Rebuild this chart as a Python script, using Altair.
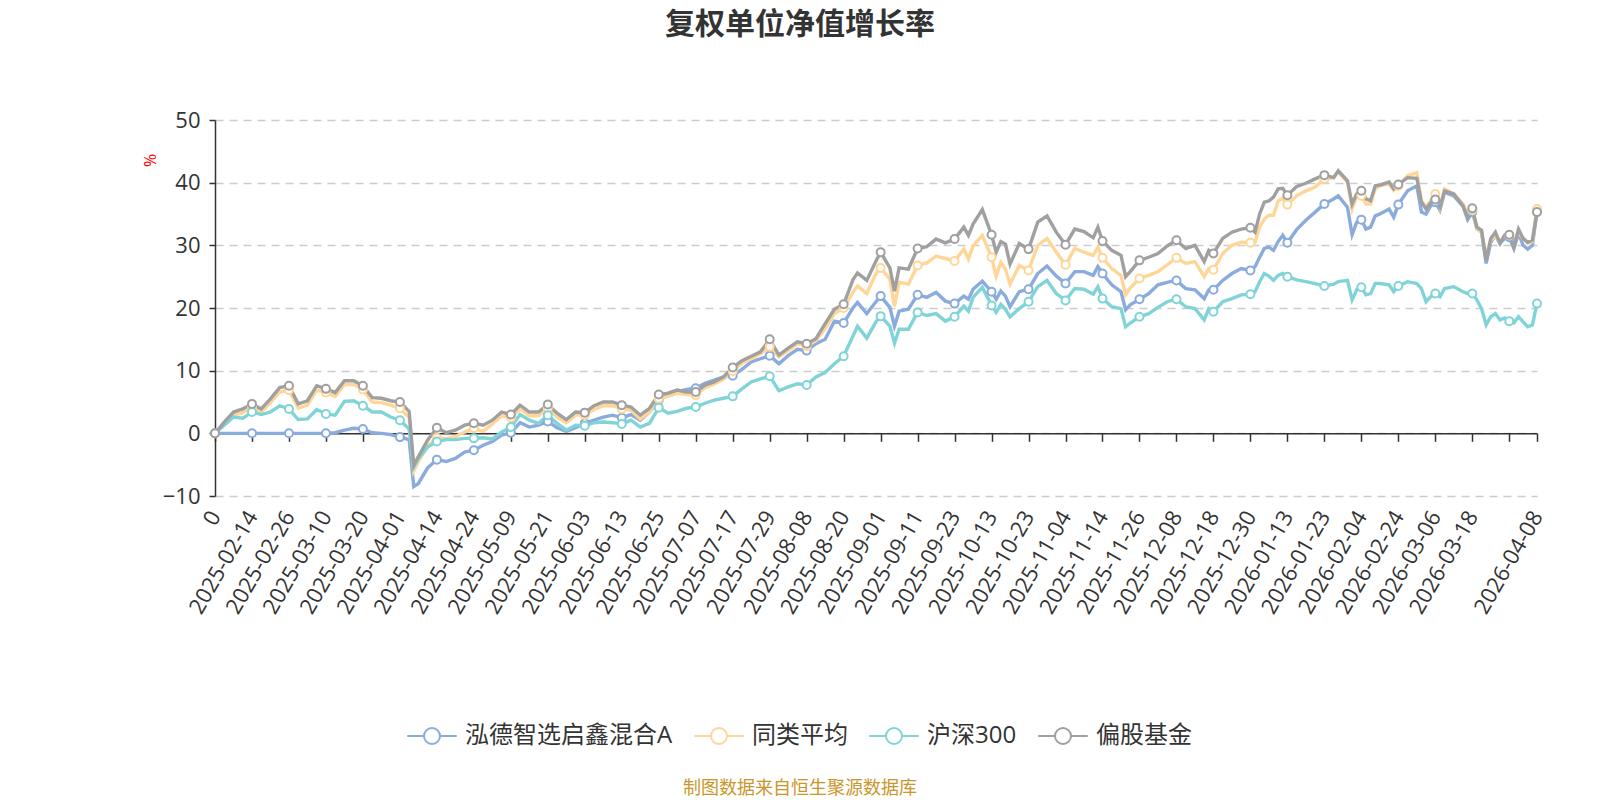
import altair as alt
import pandas as pd

TITLE = "复权单位净值增长率"
SOURCE = "制图数据来自恒生聚源数据库"
SERIES = ["泓德智选启鑫混合A", "同类平均", "沪深300", "偏股基金"]
COLORS = ["#8aabdd", "#ffd697", "#80d4d8", "#a0a0a0"]

TICK_POS = [0, 8, 16, 24, 32, 40, 48, 56, 64, 72, 80, 88, 96, 104, 112, 120, 128, 136,
            144, 152, 160, 168, 176, 184, 192, 200, 208, 216, 224, 232, 240, 248, 256,
            264, 272, 280, 286]
TICK_LABELS = ["0", "2025-02-14", "2025-02-26", "2025-03-10", "2025-03-20", "2025-04-01",
               "2025-04-14", "2025-04-24", "2025-05-09", "2025-05-21", "2025-06-03",
               "2025-06-13", "2025-06-25", "2025-07-07", "2025-07-17", "2025-07-29",
               "2025-08-08", "2025-08-20", "2025-09-01", "2025-09-11", "2025-09-23",
               "2025-10-13", "2025-10-23", "2025-11-04", "2025-11-14", "2025-11-26",
               "2025-12-08", "2025-12-18", "2025-12-30", "2026-01-13", "2026-01-23",
               "2026-02-04", "2026-02-24", "2026-03-06", "2026-03-18", "", "2026-04-08"]

# category index of each sampled trading day
IDX = [0, 2, 4, 6, 8, 10, 12, 14, 16, 18, 20, 22, 24, 26, 28, 30, 32, 34, 36, 38, 40, 42, 43,
       44, 46, 48, 50, 52, 54, 56, 58, 60, 62, 64, 66, 68, 70, 72, 74, 76, 78, 80, 82, 84,
       86, 88, 90, 92, 94, 96, 98, 100, 102, 104, 106, 108, 110, 112, 114, 116, 118, 120,
       122, 124, 126, 128, 130, 132, 134, 136, 138, 139, 141, 143, 144, 146, 147, 148, 150,
       152, 154, 156, 158, 160, 162, 163, 164, 166, 168, 169, 170, 171, 172, 174, 176, 178,
       180, 182, 184, 186, 188, 190, 191, 192, 194, 196, 197, 198, 200, 202, 204, 206, 208,
       210, 212, 214, 215, 216, 218, 220, 222, 224, 225, 226, 227, 228, 229, 230, 231, 232,
       234, 236, 238, 240, 242, 243, 245, 246, 247, 248, 249, 250, 251, 252, 254, 255, 256,
       258, 260, 261, 262, 263, 264, 265, 266, 268, 270, 271, 272, 273, 274, 275, 276, 277,
       278, 279, 280, 281, 282, 283, 284, 285, 286]

FUND = [0, 0, 0, 0, 0, 0, 0, 0, 0, 0, 0, 0, 0, 0.1, 0.5, 0.8, 0.7, 0.1, 0.0, -0.2, -0.6, -1.0, -8.5,
        -8.0, -5.5, -4.2, -4.5, -4.0, -3.0, -2.7, -1.9, -1.3, -0.3, 0.1, 1.7, 1.0, 1.3, 1.9, 0.9, 0.3,
        0.9, 1.6, 2.1, 2.6, 2.9, 2.5, 3.0, 2.1, 3.4, 5.3, 6.1, 6.6, 7.0, 7.2, 8.0, 8.5, 9.0, 9.2,
        10.2, 11.4, 11.9, 12.4, 11.1, 12.4, 13.4, 13.2, 14.3, 15.0, 17.9, 17.6, 20.0, 20.9, 19.1,
        21.0, 21.9, 20.1, 17.1, 19.5, 19.8, 22.1, 21.7, 22.5, 21.1, 20.7, 21.9, 21.4, 23.0, 24.3,
        22.6, 21.4, 22.7, 21.9, 20.2, 22.6, 23.0, 25.5, 26.7, 25.1, 23.9, 25.8, 25.8, 25.2, 26.6,
        25.5, 23.7, 22.6, 19.7, 20.5, 21.4, 22.3, 23.7, 24.1, 24.4, 23.1, 22.9, 21.5, 22.9, 22.9,
        24.4, 25.5, 26.3, 26.0, 26.6, 28.1, 29.5, 29.7, 29.2, 30.6, 31.6, 30.4, 32.5, 34.0, 35.3,
        36.6, 37.4, 37.9, 36.1, 31.7, 33.7, 34.1, 32.6, 32.9, 34.7, 35.0, 35.8, 34.5, 36.5, 38.7,
        39.5, 35.3, 35.0, 36.3, 36.9, 35.6, 38.5, 37.9, 36.2, 34.1, 35.3, 32.6, 32.1, 27.1, 30.5,
        31.6, 30.3, 31.1, 31.3, 29.5, 31.9, 30.0, 29.4, 30.0, 35.4]

PEER = [0, 1.5, 2.9, 3.3, 4.2, 3.4, 4.9, 6.6, 6.9, 4.0, 4.5, 6.9, 6.5, 5.9, 7.8, 7.8, 7.0, 5.0, 4.9,
        4.5, 4.0, 2.5, -6.0, -4.5, -2.0, -0.7, -0.9, -0.5, 0.2, 0.8, 0.3, 1.5, 2.8, 2.5, 3.9, 2.8,
        2.8, 4.0, 2.6, 1.7, 2.9, 2.9, 3.8, 4.4, 4.4, 3.9, 3.7, 2.3, 3.4, 5.5, 5.9, 6.4, 6.2, 6.1,
        7.3, 7.9, 8.6, 9.9, 11.2, 11.9, 12.7, 13.8, 12.2, 13.2, 14.3, 13.9, 14.8, 16.7, 19.1, 20.0,
        22.5, 23.5, 22.3, 25.5, 26.4, 24.6, 20.3, 24.1, 23.8, 26.8, 27.2, 28.3, 27.9, 27.5, 29.4,
        27.8, 29.9, 31.6, 28.1, 25.1, 27.3, 26.2, 23.8, 26.8, 26.0, 30.0, 31.1, 28.9, 26.9, 29.5,
        28.9, 28.4, 29.7, 28.0, 26.3, 25.2, 22.1, 23.2, 24.7, 25.2, 25.8, 26.9, 28.0, 27.1, 27.4,
        25.0, 26.3, 26.1, 28.7, 30.0, 30.5, 30.4, 30.5, 32.9, 34.2, 34.8, 34.8, 37.1, 37.5, 36.5,
        37.9, 38.7, 39.3, 40.6, 40.8, 41.7, 40.1, 35.8, 37.9, 37.9, 36.6, 36.6, 39.0, 39.5, 39.8,
        38.8, 39.5, 41.1, 41.6, 37.1, 36.1, 37.1, 38.2, 36.1, 39.0, 38.2, 36.6, 34.8, 35.6, 32.6,
        32.1, 28.4, 30.8, 31.6, 30.5, 31.6, 31.6, 30.3, 32.1, 31.1, 30.3, 30.6, 35.8]

HS300 = [0, 1.3, 2.6, 2.4, 3.4, 3.0, 3.4, 4.4, 3.9, 2.2, 2.3, 3.8, 3.1, 2.9, 5.1, 5.2, 4.4, 3.4,
         3.4, 2.6, 2.1, 0.7, -5.4, -4.0, -2.2, -1.3, -1.0, -1.0, -0.8, -0.8, -0.7, -0.9, 0.2, 1.0,
         3.0, 2.1, 1.6, 2.9, 1.6, 0.5, 1.3, 1.2, 1.7, 1.8, 1.7, 1.5, 2.1, 1.0, 1.6, 4.1, 3.2, 3.5,
         4.0, 4.2, 4.8, 5.3, 5.6, 5.9, 7.1, 8.2, 8.7, 9.1, 6.8, 7.4, 7.9, 7.7, 9.0, 9.7, 11.1, 12.3,
         15.5, 17.1, 15.2, 17.8, 18.7, 17.1, 14.4, 16.6, 16.6, 19.3, 18.8, 19.1, 17.9, 18.6, 20.3,
         19.5, 21.7, 23.3, 20.4, 19.3, 20.6, 19.8, 18.6, 19.9, 21.0, 23.4, 24.4, 22.3, 21.2, 23.1,
         23.0, 22.2, 23.4, 21.5, 20.2, 19.9, 17.0, 17.6, 18.6, 19.1, 20.1, 21.0, 21.4, 20.2, 19.9,
         18.1, 19.9, 19.4, 21.0, 21.5, 22.1, 22.2, 22.6, 24.2, 25.5, 25.1, 24.4, 25.2, 25.5, 25.0,
         24.5, 24.2, 23.9, 23.5, 23.8, 24.2, 24.4, 21.3, 22.9, 23.3, 22.1, 22.3, 23.9, 23.9, 23.7,
         22.6, 23.5, 24.2, 23.9, 23.1, 21.0, 21.8, 22.3, 21.8, 23.1, 23.4, 22.6, 22.3, 22.3, 21.3,
         19.9, 17.3, 18.6, 19.1, 18.1, 18.4, 17.9, 17.6, 18.6, 17.8, 17.0, 17.3, 20.7]

EQUITY = [0, 1.8, 3.4, 3.9, 4.7, 3.9, 5.5, 7.3, 7.6, 4.7, 5.2, 7.6, 7.1, 6.5, 8.4, 8.4, 7.6, 5.7,
          5.6, 5.2, 5.0, 3.5, -5.1, -3.7, -1.1, 0.9, 0.1, 0.5, 1.3, 1.6, 1.3, 2.1, 3.4, 3.0, 4.5,
          3.4, 3.4, 4.6, 3.2, 2.2, 3.4, 3.3, 4.4, 5.0, 5.0, 4.5, 4.2, 2.9, 4.0, 6.2, 6.4, 6.9, 6.6,
          6.6, 7.7, 8.2, 9.0, 10.5, 11.6, 12.3, 13.0, 15.0, 12.5, 13.6, 14.6, 14.3, 15.1, 17.5,
          19.8, 20.6, 24.5, 25.6, 24.4, 27.5, 28.9, 26.4, 22.7, 26.4, 26.2, 29.5, 29.8, 31.0, 30.4,
          31.0, 32.9, 31.6, 33.4, 35.7, 31.7, 28.9, 30.6, 30.2, 27.0, 30.3, 29.4, 33.7, 34.7, 32.1,
          30.1, 32.6, 32.2, 31.2, 32.9, 30.7, 29.2, 28.4, 25.0, 25.8, 27.6, 28.1, 28.7, 29.9, 30.8,
          29.5, 30.0, 27.4, 29.2, 28.7, 31.1, 32.1, 32.6, 32.8, 32.1, 35.0, 36.9, 37.1, 37.7, 39.0,
          39.1, 38.0, 39.4, 39.9, 40.6, 41.2, 40.8, 41.9, 40.3, 36.6, 38.2, 38.7, 37.4, 37.1, 39.5,
          39.6, 40.1, 39.0, 39.7, 40.8, 40.7, 36.9, 35.8, 36.8, 37.3, 36.1, 38.7, 38.2, 36.3, 34.5,
          35.9, 32.9, 32.4, 27.6, 31.1, 32.1, 30.3, 31.6, 31.7, 29.7, 32.6, 31.1, 30.5, 30.8, 35.3]

rows = []
for name, vals in zip(SERIES, [FUND, PEER, HS300, EQUITY]):
    for i, v in zip(IDX, vals):
        rows.append({"i": i, "v": v, "s": name})
df = pd.DataFrame(rows)

LAST = TICK_POS[-1]
label_expr = ("[" + ",".join("'%s'" % t for t in TICK_LABELS) + "][indexof(["
              + ",".join(str(p) for p in TICK_POS) + "], datum.value)]")

W, H = 1322, 376
Y_MIN, Y_MAX = -10, 50
below_zero = H * (0 - Y_MIN) / (Y_MAX - Y_MIN)   # pixels between zero line and plot bottom

FONT = "Open Sans, Noto Sans CJK SC"
LEGEND_PATH = "M-3.1,0L-1,0M1,0L3.1,0M1,0A1,1,0,1,1,-1,0A1,1,0,1,1,1,0"

legend = alt.Legend(orient="none", legendX=205, legendY=604, direction="horizontal",
                    title=None, symbolType=LEGEND_PATH, symbolSize=256, symbolStrokeWidth=2,
                    symbolFillColor="white", labelFontSize=24, labelColor="#333333",
                    labelFont=FONT, labelOffset=21, columnPadding=17, labelLimit=400)

color = alt.Color("s:N", scale=alt.Scale(domain=SERIES, range=COLORS), legend=legend)

x = alt.X("i:Q", scale=alt.Scale(domain=[0, LAST], nice=False, zero=False),
          axis=alt.Axis(values=TICK_POS, labelExpr=label_expr, title=None, grid=False,
                        domain=True, domainColor="#333333", domainWidth=1.5,
                        ticks=True, tickSize=8, tickColor="#333333", tickWidth=1.5,
                        labelAngle=-60, labelAlign="right", labelBaseline="middle",
                        labelFontSize=22, labelColor="#333333", labelFont=FONT,
                        labelPadding=71, offset=-below_zero, labelOverlap=False,
                        labelFlush=False, labelBound=False))
y = alt.Y("v:Q", scale=alt.Scale(domain=[Y_MIN, Y_MAX], nice=False, zero=False),
          axis=alt.Axis(values=list(range(Y_MIN, Y_MAX + 1, 10)), title="%",
                        titleColor="red", titleFontSize=16, titleFontWeight="normal",
                        titleFont=FONT, titleX=-57, titleY=40, titleAngle=-90,
                        grid=True, gridDash=[8, 6], gridColor="#cccccc", gridWidth=1.5,
                        domain=True, domainColor="#333333", domainWidth=1.5,
                        ticks=True, tickSize=6, tickColor="#333333", tickWidth=1.5,
                        labelFontSize=22, labelColor="#333333", labelFont=FONT,
                        labelPadding=9))

base = alt.Chart(df)
lines = base.mark_line(strokeWidth=3.4).encode(
    x=x, y=y, color=color, detail="s:N", order="i:Q")
points = base.transform_filter(
    f"datum.i % 8 == 0 || datum.i == {LAST}"
).mark_point(shape="circle", filled=False, fill="white", size=64, strokeWidth=2,
             opacity=1).encode(x=x, y=y, color=color)

title = alt.Chart(pd.DataFrame({"t": [TITLE]})).mark_text(
    fontSize=30, fontWeight="bold", color="#333333", font="Noto Sans CJK SC",
    align="center", baseline="middle"
).encode(text="t:N", x=alt.value(585), y=alt.value(-95))

source = alt.Chart(pd.DataFrame({"t": [SOURCE]})).mark_text(
    fontSize=18, color="#c9962a", font="Noto Sans CJK SC", align="center", baseline="middle"
).encode(text="t:N", x=alt.value(585), y=alt.value(669))

chart = alt.layer(lines, points, title, source).properties(
    width=W, height=H, background="white",
    autosize=alt.AutoSizeParams(type="none"),
    padding={"left": 215, "top": 120, "right": 63, "bottom": 304},
).configure_view(stroke=None)

chart.save("out.html", embed_options={"renderer": "svg", "actions": False})
